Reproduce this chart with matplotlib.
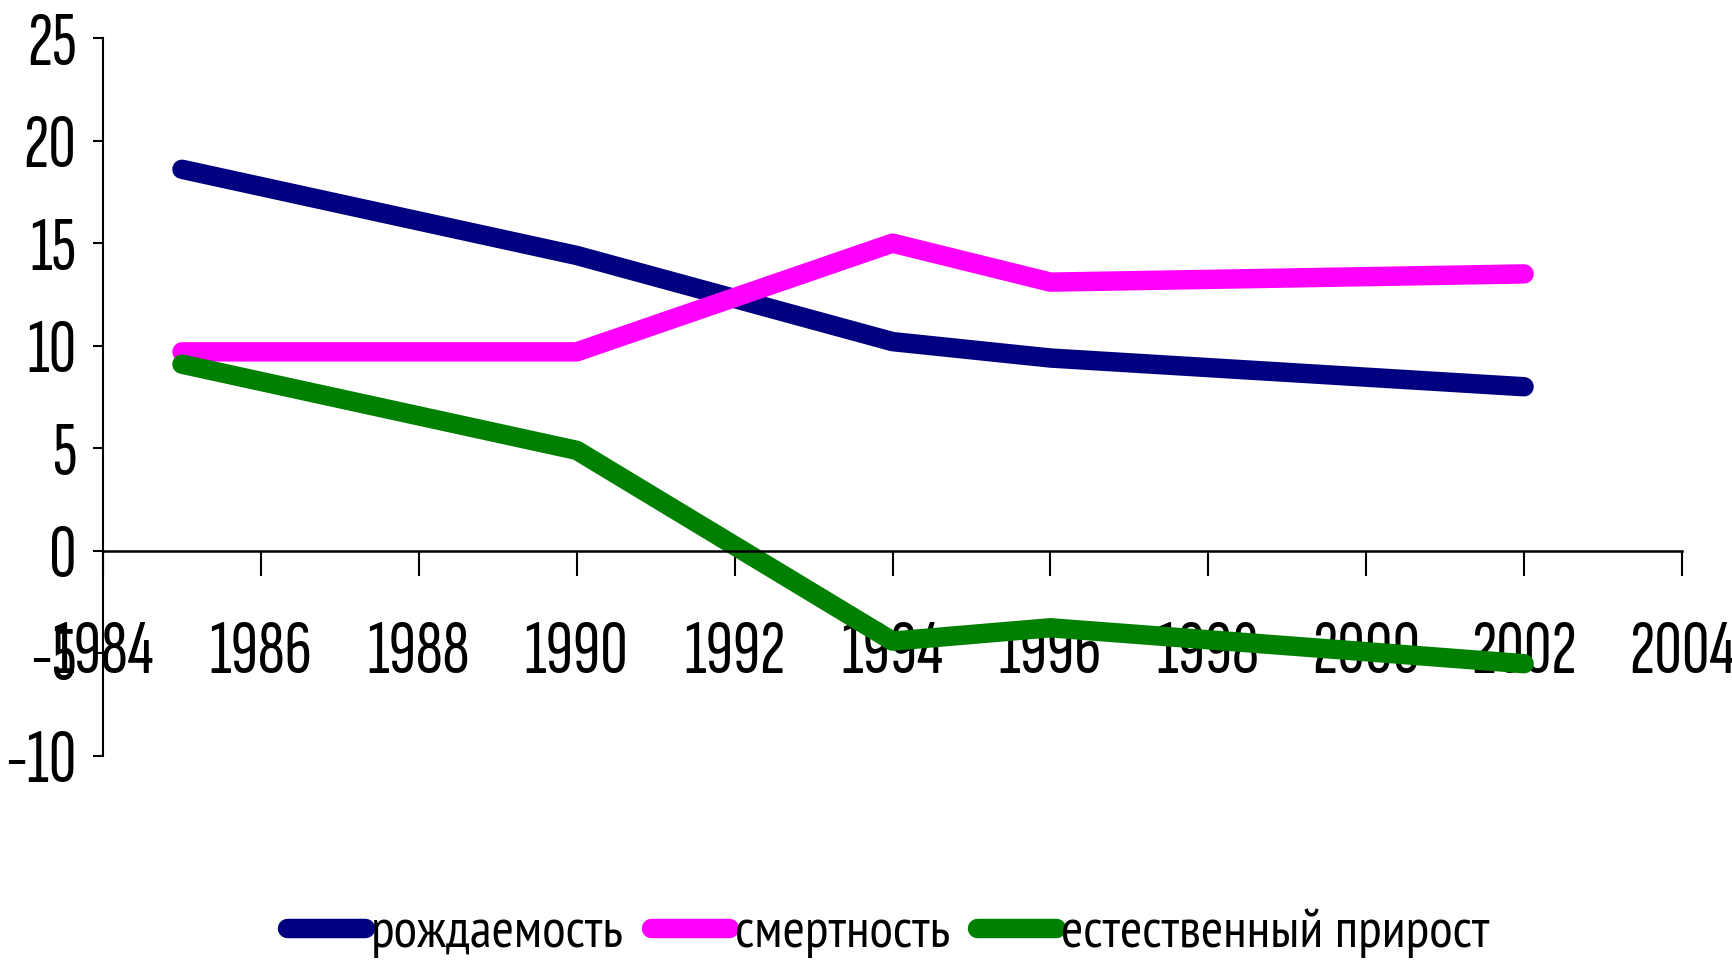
import matplotlib
matplotlib.use("Agg")
import matplotlib.pyplot as plt

years = [1985, 1990, 1994, 1996, 2002]
births = [18.6, 14.4, 10.2, 9.4, 8.0]
deaths = [9.7, 9.7, 15.0, 13.1, 13.5]
natural = [9.1, 4.9, -4.4, -3.75, -5.5]

labels = ["рождаемость", "смертность", "естественный прирост"]
colors = ["#000080", "#FF00FF", "#008000"]

plt.rcParams['font.family'] = ['Sofia Sans Extra Condensed', 'Roboto Condensed', 'DejaVu Sans']
plt.rcParams['axes.unicode_minus'] = False

fig = plt.figure(figsize=(17.33, 9.67), dpi=100)
ax = fig.add_axes([103/1733, 1-756/967, (1682-103)/1733, (756-38)/967])

for ys, c, lab in zip([births, deaths, natural], colors, labels):
    ax.plot(years, ys, color=c, lw=14, label=lab,
            solid_capstyle='round', solid_joinstyle='round', zorder=2)

ax.set_xlim(1984, 2004)
ax.set_ylim(-10, 25)
ax.set_xticks(range(1984, 2005, 2))
ax.set_yticks(range(-10, 26, 5))

ax.spines['top'].set_visible(False)
ax.spines['right'].set_visible(False)
ax.spines['bottom'].set_position(('data', 0))
ax.spines['bottom'].set_linewidth(1.8)
ax.spines['left'].set_linewidth(1.5)

ax.tick_params(axis='x', direction='out', length=18, width=1.5, pad=32, labelsize=55)
ax.tick_params(axis='y', direction='out', length=7, width=1.5, pad=12, labelsize=55)
for t in ax.get_xticklabels() + ax.get_yticklabels():
    t.set_zorder(3)

leg = ax.legend(loc='center', bbox_to_anchor=(0.5125, 0.035), bbox_transform=fig.transFigure,
                ncol=3, frameon=False, handlelength=1.45, handletextpad=0.1,
                columnspacing=0.5,
                prop={'family': ['PT Sans Narrow', 'Roboto Condensed', 'DejaVu Sans'], 'size': 39})

fig.savefig("out.png", dpi=100)
